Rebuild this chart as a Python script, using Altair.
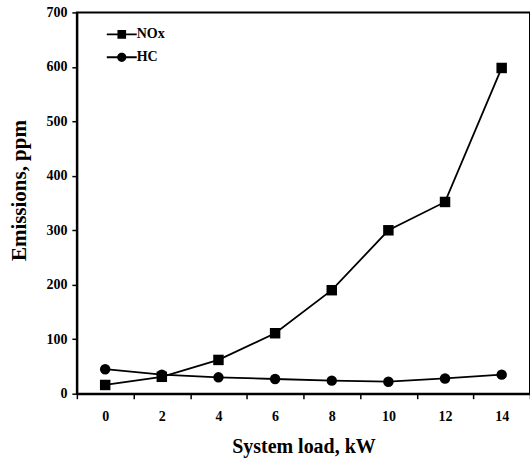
import altair as alt
import pandas as pd

# data
loads = [0, 2, 4, 6, 8, 10, 12, 14]
nox = [16, 31, 62, 111, 190, 300, 352, 598]
hc = [45, 35, 30, 27, 24, 22, 28, 35]
series_names = ["NOx", "HC"]

rows = []
for name, vals in zip(series_names, [nox, hc]):
    for x, y in zip(loads, vals):
        rows.append({"load": x, "value": y, "series": name})
df = pd.DataFrame(rows)

FONT = "Liberation Serif"

x_enc = alt.X(
    "load:Q",
    scale=alt.Scale(domain=[-1, 15], nice=False, zero=False),
    axis=alt.Axis(
        title="System load, kW",
        values=list(range(-1, 16)),
        labelExpr="datum.value % 2 == 0 ? datum.label : ''",
        tickOpacity={"condition": {"test": "datum.value % 2 != 0", "value": 1}, "value": 0},
        tickSize=5,
        labelPadding=11,
        titlePadding=13,
    ),
)
y_enc = alt.Y(
    "value:Q",
    scale=alt.Scale(domain=[0, 700], nice=False),
    axis=alt.Axis(
        title="Emissions, ppm",
        values=list(range(0, 701, 100)),
        tickSize=5,
        labelPadding=5,
        titlePadding=16,
        titleY=178,
        titleFontSize=21,
    ),
)

lines = alt.Chart(df).mark_line(color="black", strokeWidth=1.8).encode(
    x=x_enc, y=y_enc, detail="series:N"
)

points = alt.Chart(df).mark_point(filled=True, color="black", opacity=1, size=110).encode(
    x=x_enc,
    y=y_enc,
    shape=alt.Shape(
        "series:N",
        scale=alt.Scale(domain=series_names, range=["square", "circle"]),
        legend=None,
    ),
)

sq_path = "M-1.875,-0.12H1.875V0.12H-1.875Z M-0.54,-0.54H0.54V0.54H-0.54Z"
ci_path = ("M-1.875,-0.12H1.875V0.12H-1.875Z "
           "M-0.58,0A0.58,0.58 0 1,1 0.58,0A0.58,0.58 0 1,1 -0.58,0Z")

legend_layer = alt.Chart(df).mark_point(filled=True, color="black", opacity=0).encode(
    x=x_enc,
    y=y_enc,
    shape=alt.Shape(
        "series:N",
        scale=alt.Scale(domain=series_names, range=[sq_path, ci_path]),
        legend=alt.Legend(
            title=None,
            orient="none",
            legendX=37,
            legendY=14,
            padding=0,
            symbolSize=256,
            symbolFillColor="black",
            symbolStrokeColor="black",
            symbolStrokeWidth=0,
            symbolOpacity=1,
            labelOffset=7,
            rowPadding=8,
            labelFont=FONT,
            labelFontWeight="bold",
            labelFontSize=14,
            labelColor="black",
        ),
    ),
)

chart = (
    alt.layer(lines, points, legend_layer)
    .resolve_scale(shape="independent")
    .resolve_legend(shape="independent")
    .properties(
        width=454,
        height=382,
        autosize=alt.AutoSizeParams(type="none"),
        padding={"left": 77, "top": 12, "right": 0, "bottom": 69},
        background="white",
    )
    .configure_view(stroke="black", strokeWidth=2)
    .configure_axis(
        grid=False,
        domainColor="black",
        domainWidth=2,
        tickColor="black",
        tickWidth=1.5,
        labelFont=FONT,
        labelFontWeight="bold",
        labelFontSize=14,
        labelColor="black",
        titleFont=FONT,
        titleFontWeight="bold",
        titleFontSize=20,
        titleColor="black",
    )
)

chart.save("out.html", embed_options={"renderer": "svg", "actions": False})
